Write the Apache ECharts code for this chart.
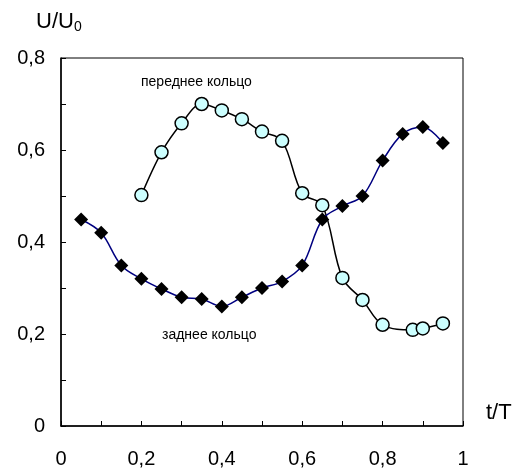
<!DOCTYPE html>
<html>
<head>
<meta charset="utf-8">
<script src="https://cdn.jsdelivr.net/npm/echarts@6/dist/echarts.min.js"></script>
<style>
  html, body { margin: 0; padding: 0; background: #fff; }
  #chart { width: 514px; height: 472px; }
</style>
</head>
<body>
<div id="chart"></div>
<script>
// Front ring: t/T and U/U0
const frontT = [0.2, 0.25, 0.3, 0.35, 0.4, 0.45, 0.5, 0.55, 0.6, 0.65, 0.7, 0.75, 0.8, 0.875, 0.9, 0.95];
const frontU = [0.502, 0.595, 0.658, 0.700, 0.686, 0.667, 0.640, 0.620, 0.506, 0.480, 0.322, 0.274, 0.220, 0.209, 0.212, 0.223];

// Rear ring: t/T and U/U0
const rearT = [0.05, 0.1, 0.15, 0.2, 0.25, 0.3, 0.35, 0.4, 0.45, 0.5, 0.55, 0.6, 0.65, 0.7, 0.75, 0.8, 0.85, 0.9, 0.95];
const rearU = [0.449, 0.420, 0.349, 0.320, 0.298, 0.280, 0.276, 0.260, 0.280, 0.300, 0.314, 0.349, 0.449, 0.478, 0.500, 0.577, 0.635, 0.650, 0.615];

const xLabeled = [0, 0.2, 0.4, 0.6, 0.8, 1];
const yLabeled = [0, 0.2, 0.4, 0.6, 0.8];

const font = 'Liberation Sans, Arial, sans-serif';
const fmt = v => {
  const r = Math.round(v * 10) / 10;
  return r.toString().replace('.', ',');
};
const pick = list => v => list.some(x => Math.abs(x - v) < 1e-6) ? fmt(v) : '';

const zip = (a, b) => a.map((v, i) => [v, b[i]]);

const chart = echarts.init(document.getElementById('chart'), null, { renderer: 'canvas' });
chart.setOption({
  animation: false,
  backgroundColor: '#fff',
  grid: {
    left: 61, right: 51, top: 58, bottom: 46,
    show: true, borderColor: '#000', borderWidth: 1, backgroundColor: 'transparent'
  },
  xAxis: {
    type: 'value', min: 0, max: 1, interval: 0.1,
    axisLine: { show: true, onZero: false, lineStyle: { color: '#000', width: 1.5 } },
    axisTick: { show: true, inside: true, length: 5, lineStyle: { color: '#000', width: 1 } },
    splitLine: { show: false },
    axisLabel: { formatter: pick(xLabeled), color: '#000', fontSize: 20, fontFamily: font, margin: 23 }
  },
  yAxis: {
    type: 'value', min: 0, max: 0.8, interval: 0.1,
    axisLine: { show: true, onZero: false, lineStyle: { color: '#000', width: 1.5 } },
    axisTick: { show: true, inside: true, length: 5, lineStyle: { color: '#000', width: 1 } },
    splitLine: { show: false },
    axisLabel: { formatter: pick(yLabeled), color: '#000', fontSize: 20, fontFamily: font, margin: 16 }
  },
  series: [
    {
      name: 'переднее кольцо',
      type: 'line',
      data: zip(frontT, frontU),
      smooth: 0.35,
      symbol: 'circle',
      symbolSize: 13,
      lineStyle: { color: '#000', width: 1.5 },
      itemStyle: { color: '#ccffff', borderColor: '#000', borderWidth: 1.5 },
      z: 2
    },
    {
      name: 'заднее кольцо',
      type: 'line',
      data: zip(rearT, rearU),
      smooth: 0.35,
      symbol: 'diamond',
      symbolSize: 14,
      lineStyle: { color: '#000080', width: 1.5 },
      itemStyle: { color: '#000', borderColor: '#000', borderWidth: 0 },
      z: 3
    }
  ],
  graphic: [
    {
      type: 'text', left: 36, top: 11,
      style: {
        text: '{m|U/U}{s|0}',
        rich: {
          m: { fontSize: 22, fontFamily: font, fill: '#000' },
          s: { fontSize: 14, fontFamily: font, fill: '#000', verticalAlign: 'bottom', padding: [11, 0, 0, 0] }
        }
      }
    },
    {
      type: 'text', left: 486, top: 402,
      style: { text: 't/T', fontSize: 22, fontFamily: font, fill: '#000' }
    },
    {
      type: 'text', left: 141, top: 75,
      style: { text: 'переднее кольцо', fontSize: 14, fontFamily: font, fill: '#000' }
    },
    {
      type: 'text', left: 162, top: 328,
      style: { text: 'заднее кольцо', fontSize: 14, fontFamily: font, fill: '#000' }
    }
  ]
});
</script>
</body>
</html>
